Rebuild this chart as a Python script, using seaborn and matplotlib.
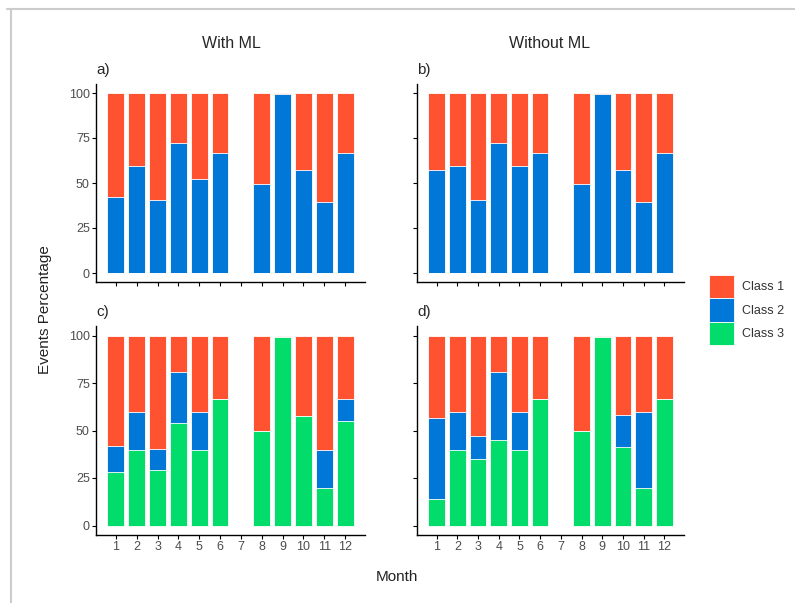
import pandas as pd
import matplotlib.pyplot as plt
import seaborn as sns
from matplotlib.patches import Patch
from matplotlib.lines import Line2D

months = [1, 2, 3, 4, 5, 6, 8, 9, 10, 11, 12]
month_order = [1, 2, 3, 4, 5, 6, 7, 8, 9, 10, 11, 12]

# a) With ML, two classes
a_class1 = [58, 40.5, 59.5, 28, 47.5, 33.5, 50.5, 0.7, 42.5, 60.5, 33.5]
a_class2 = [42, 59.5, 40.5, 72, 52.5, 66.5, 49.5, 99.3, 57.5, 39.5, 66.5]
a_class3 = [0, 0, 0, 0, 0, 0, 0, 0, 0, 0, 0]

# b) Without ML, two classes
b_class1 = [43, 40.5, 59.5, 28, 40.5, 33.5, 50.5, 0.7, 42.5, 60.5, 33.5]
b_class2 = [57, 59.5, 40.5, 72, 59.5, 66.5, 49.5, 99.3, 57.5, 39.5, 66.5]
b_class3 = [0, 0, 0, 0, 0, 0, 0, 0, 0, 0, 0]

# c) With ML, three classes
c_class1 = [58, 40.5, 59.5, 19, 40.5, 33.5, 50.5, 0.7, 42.5, 60.5, 33.5]
c_class2 = [14, 20, 11.5, 27, 20, 0, 0, 0, 0, 20, 11.5]
c_class3 = [28, 39.5, 29, 54, 39.5, 66.5, 49.5, 99.3, 57.5, 19.5, 55]

# d) Without ML, three classes
d_class1 = [43.5, 40.5, 53, 19, 40.5, 33.5, 50.5, 0.7, 42, 40.5, 33.5]
d_class2 = [42.5, 20, 12, 36, 20, 0, 0, 0, 16.5, 40, 0]
d_class3 = [14, 39.5, 35, 45, 39.5, 66.5, 49.5, 99.3, 41.5, 19.5, 66.5]

class_labels = ['Class 1', 'Class 2', 'Class 3']
colors = ['#FF5230', '#0178D8', '#01DC6A']

panels = [
    ('a)', a_class1, a_class2, a_class3),
    ('b)', b_class1, b_class2, b_class3),
    ('c)', c_class1, c_class2, c_class3),
    ('d)', d_class1, d_class2, d_class3),
]

sns.set_theme(style='ticks')
plt.rcParams['font.family'] = ['Liberation Sans', 'DejaVu Sans']

W, H = 795, 603
fig = plt.figure(figsize=(W / 100, H / 100), dpi=100)

# axes boxes in pixels: left, right, top, bottom
boxes = [
    (96, 365, 84, 282),
    (417, 684, 84, 282),
    (96, 365, 326, 535),
    (417, 684, 326, 535),
]

for i, (lab, c1, c2, c3) in enumerate(panels):
    l, r, t, b = boxes[i]
    ax = fig.add_axes([l / W, 1 - b / H, (r - l) / W, (b - t) / H])
    df = pd.DataFrame({'month': months, 'c1': c1, 'c2': c2, 'c3': c3})
    df['top1'] = df['c1'] + df['c2'] + df['c3']
    df['top2'] = df['c2'] + df['c3']
    for col, colr in zip(['top1', 'top2', 'c3'], colors):
        sns.barplot(data=df, x='month', y=col, order=month_order, color=colr,
                    width=0.8, edgecolor='white', linewidth=0.6,
                    errorbar=None, saturation=1, ax=ax)
    ax.set_xlim(-0.95, 11.95)
    ax.set_ylim(-5, 105)
    ax.set_yticks([0, 25, 50, 75, 100])
    ax.set_xlabel('')
    ax.set_ylabel('')
    sns.despine(ax=ax)
    for s in ['left', 'bottom']:
        ax.spines[s].set_linewidth(1.0)
        ax.spines[s].set_color('black')
    ax.tick_params(axis='both', length=3, width=0.8, color='black',
                   labelsize=9, labelcolor='#4D4D4D', pad=1.5)
    if i < 2:
        ax.set_xticklabels([])
    if i % 2 == 1:
        ax.set_yticklabels([])
    fig.text(l / W, 1 - (t - 14) / H, lab, fontsize=11, ha='left', va='center')

fig.text(231 / W, 1 - 43 / H, 'With ML', fontsize=11.5, ha='center', va='center')
fig.text(550 / W, 1 - 43 / H, 'Without ML', fontsize=11.5, ha='center', va='center')
fig.text(45 / W, 1 - 310 / H, 'Events Percentage', fontsize=11, rotation=90,
         ha='center', va='center', color='#222222')
fig.text(397 / W, 1 - 577 / H, 'Month', fontsize=11, ha='center', va='center',
         color='#222222')

handles = [Patch(facecolor=c, edgecolor='white', linewidth=0.6) for c in colors]
fig.legend(handles, class_labels, loc='center left',
           bbox_to_anchor=(703 / W, 1 - 310 / H), frameon=False,
           handlelength=1.95, handleheight=2.5, labelspacing=0,
           handletextpad=0.7, borderpad=0, fontsize=9, labelcolor='#333333')

# light frame from the original crop
fig.add_artist(Line2D([7 / W, 1], [1 - 9 / H, 1 - 9 / H], color='#CCCCCC',
                      linewidth=1.5, transform=fig.transFigure))
fig.add_artist(Line2D([11 / W, 11 / W], [0, 1 - 9 / H], color='#CCCCCC',
                      linewidth=1.5, transform=fig.transFigure))

plt.savefig('out.png', dpi=100)
